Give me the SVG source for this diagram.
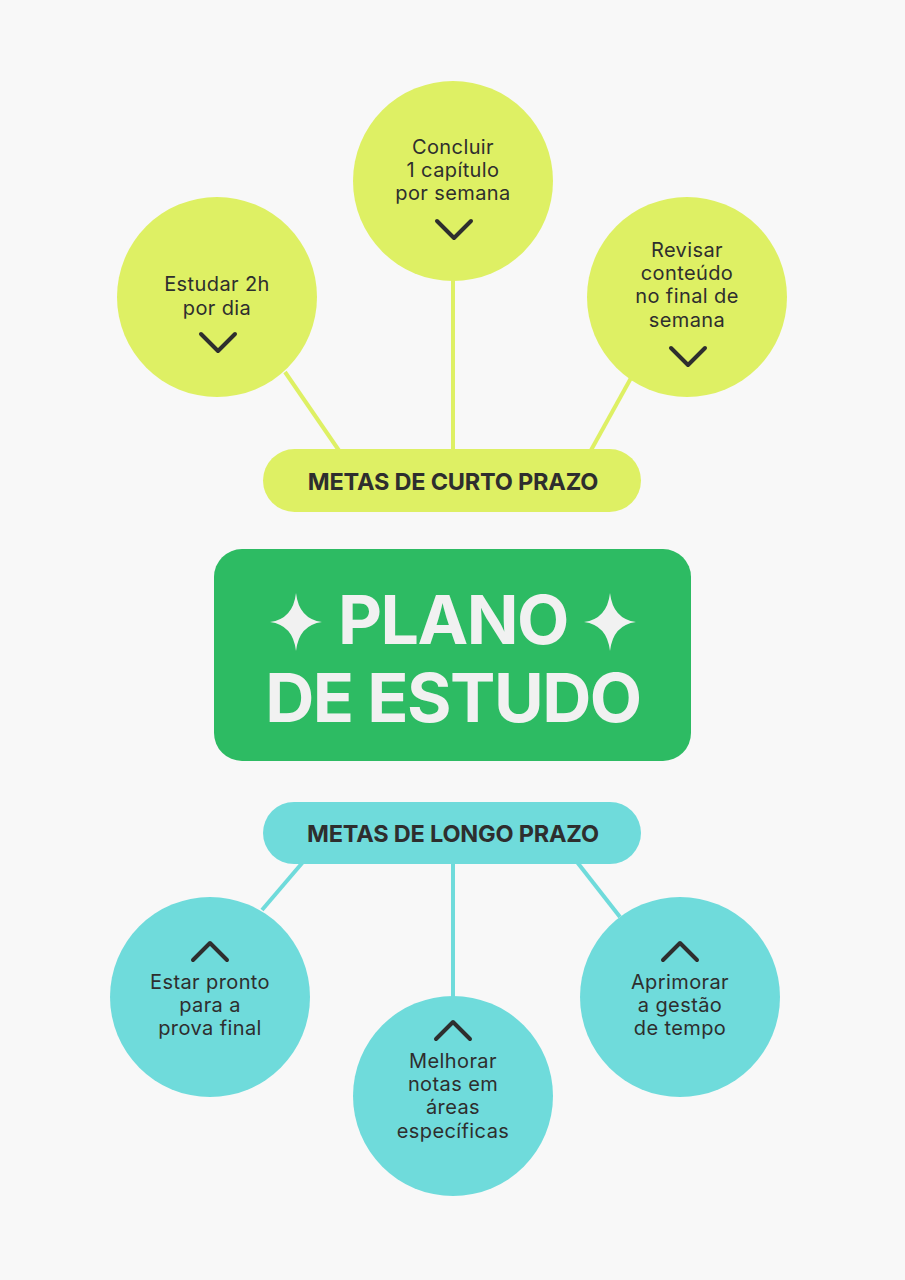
<svg xmlns="http://www.w3.org/2000/svg" width="905" height="1280" viewBox="0 0 905 1280">
<style>
.y{fill:#def064}
.c{fill:#6fdbdb}
.t{font-family:Inter,"Liberation Sans",sans-serif;font-size:20px;fill:#2e2e2e;text-anchor:middle;letter-spacing:0.4px}
.p{font-family:Inter,"Liberation Sans",sans-serif;font-size:23.5px;font-weight:700;fill:#2e2e2e;text-anchor:middle;letter-spacing:-0.2px}
.h{font-family:Inter,"Liberation Sans",sans-serif;font-size:68px;font-weight:700;fill:#f1f1f1;text-anchor:middle;letter-spacing:-1.5px}
.ch{fill:none;stroke:#2e2e2e;stroke-width:4;stroke-linecap:round;stroke-linejoin:round}
.ly{stroke:#def064;stroke-width:4;fill:none}
.lc{stroke:#6fdbdb;stroke-width:4;fill:none}
</style>
<rect width="905" height="1280" fill="#f8f8f8"/>
<g id="connectors">
<line class="ly" x1="285" y1="372" x2="340" y2="452"/>
<line class="ly" x1="453" y1="280" x2="453" y2="452"/>
<line class="ly" x1="631" y1="378" x2="590" y2="452"/>
<line class="lc" x1="303" y1="862" x2="262" y2="910"/>
<line class="lc" x1="453" y1="862" x2="453" y2="997"/>
<line class="lc" x1="577" y1="862" x2="620" y2="917"/>
</g>
<g id="goal-short-1">
<circle class="y" cx="217" cy="297" r="100"/>
<text class="t"><tspan x="217" y="291">Estudar 2h</tspan><tspan x="217" y="315">por dia</tspan></text>
<polyline class="ch" points="201,334 218,351 235,334"/>
</g>
<g id="goal-short-2">
<circle class="y" cx="453" cy="181" r="100"/>
<text class="t"><tspan x="453" y="154">Concluir</tspan><tspan x="453" y="177">1 capítulo</tspan><tspan x="453" y="200">por semana</tspan></text>
<polyline class="ch" points="437,221 454,238 471,221"/>
</g>
<g id="goal-short-3">
<circle class="y" cx="687" cy="297" r="100"/>
<text class="t"><tspan x="687" y="257">Revisar</tspan><tspan x="687" y="280">conteúdo</tspan><tspan x="687" y="303">no final de</tspan><tspan x="687" y="327">semana</tspan></text>
<polyline class="ch" points="671,348 688,365 705,348"/>
</g>
<g id="short-term">
<rect class="y" x="263" y="449" width="378" height="63" rx="31.5"/>
<text class="p" x="453" y="490">METAS DE CURTO PRAZO</text>
</g>
<g id="title">
<rect x="214" y="549" width="477" height="212" rx="28" fill="#2dbb63"/>
<text class="h"><tspan x="453" y="644">PLANO</tspan><tspan x="453" y="722">DE ESTUDO</tspan></text>
<path d="M296,593 Q299,619 322,622 Q299,625 296,651 Q293,625 270,622 Q293,619 296,593Z" fill="#f1f1f1"/>
<path d="M610,593 Q613,619 636,622 Q613,625 610,651 Q607,625 584,622 Q607,619 610,593Z" fill="#f1f1f1"/>
</g>
<g id="long-term">
<rect class="c" x="263" y="802" width="378" height="62" rx="31"/>
<text class="p" x="453" y="842">METAS DE LONGO PRAZO</text>
</g>
<g id="goal-long-1">
<circle class="c" cx="210" cy="997" r="100"/>
<polyline class="ch" points="193,960 210,943 227,960"/>
<text class="t"><tspan x="210" y="989">Estar pronto</tspan><tspan x="210" y="1012">para a</tspan><tspan x="210" y="1035">prova final</tspan></text>
</g>
<g id="goal-long-2">
<circle class="c" cx="453" cy="1096" r="100"/>
<polyline class="ch" points="436,1039 453,1022 470,1039"/>
<text class="t"><tspan x="453" y="1068">Melhorar</tspan><tspan x="453" y="1091">notas em</tspan><tspan x="453" y="1114">áreas</tspan><tspan x="453" y="1138">específicas</tspan></text>
</g>
<g id="goal-long-3">
<circle class="c" cx="680" cy="997" r="100"/>
<polyline class="ch" points="663,960 680,943 697,960"/>
<text class="t"><tspan x="680" y="989">Aprimorar</tspan><tspan x="680" y="1012">a gestão</tspan><tspan x="680" y="1035">de tempo</tspan></text>
</g>
</svg>
